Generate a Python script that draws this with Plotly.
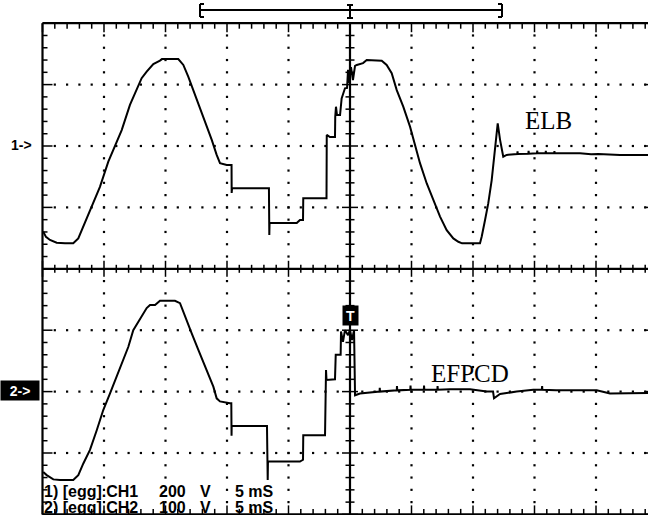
import plotly.graph_objects as go

# ---------------- data ----------------
time_scale_ms_per_div = 5
ch1_V_per_div = 200
ch2_V_per_div = 100
ch1_name = "ELB"
ch2_name = "EFPCD"
readout_ch1 = ["1) [egg].CH1", "200", "V", "5 mS"]
readout_ch2 = ["2) [egg].CH2", "100", "V", "5 mS"]

ch1_time_ms = [-24.94, -24.72, -24.39, -23.85, -23.17, -22.50, -22.09, -21.68, -21.14, -20.33,
               -19.65, -19.24, -18.56, -17.89, -17.34, -16.94, -16.53, -15.99, -15.45, -15.29,
               -13.96, -13.55, -13.15, -12.74, -12.20, -11.65, -11.24, -10.84, -10.57, -10.02,
               -9.63, -9.62, -9.59, -6.59, -6.56, -6.54, -4.33, -4.07, -3.82, -3.80,
               -1.91, -1.89, -1.63, -1.22, -1.20, -1.14, -1.06, -0.81, -0.68, -0.41,
               -0.24, -0.16, -0.08, 0.08, 0.24, 0.41, 0.55, 1.06, 1.36, 2.58,
               2.98, 3.39, 3.80, 4.33, 4.88, 5.29, 5.69, 6.24, 6.77, 7.32,
               7.86, 8.40, 8.81, 9.11, 10.57, 10.71, 10.98, 11.24, 11.52, 11.71,
               11.87, 12.01, 12.20, 12.46, 12.74,
               13.60, 13.62, 13.64, 14.50, 14.52, 14.54, 15.20, 15.22, 15.24, 15.90,
               15.92, 15.94, 16.60, 16.62, 16.64, 18.70, 19.60, 20.20, 21.95, 24.23, 25.0]
ch1_volt_V = [-279, -296, -306, -315, -317, -317, -301, -263, -209, -133,
              -51, -13, 52, 134, 182, 221, 242, 267, 278, 283,
              283, 264, 226, 182, 128, 68, 20, -29, -56, -62,
              -62, -153, -138, -138, -290, -251, -251, -241, -241, -170,
              -170, 36, 29, 29, 95, 128, 101, 101, 155, 188,
              189, 248, 205, 257, 215, 261, 264, 270, 280, 278,
              264, 237, 182, 128, 63, -2, -56, -122, -176, -230,
              -274, -301, -312, -317, -317, -295, -241, -187, -111, -35,
              41, 74, 20, -35, -29,
              -26, -17, -26, -25, -16, -25, -24, -15, -24, -24,
              -16, -24, -24, -17, -24, -24, -27, -26, -29, -29, -29]

ch2_time_ms = [-24.94, -24.66, -24.12, -23.58, -22.50, -22.09, -21.68, -21.14, -20.59, -20.06,
               -19.51, -18.84, -18.02, -17.62, -17.07, -16.53, -16.26, -15.85, -15.45, -14.23,
               -13.82, -13.42, -12.87, -12.33, -11.65, -11.11, -10.84, -10.57, -9.76, -9.65,
               -9.63, -9.62, -6.75, -6.69, -6.67, -4.07, -3.82, -3.80, -2.03, -1.95,
               -1.91, -1.22, -1.16, -0.76, -0.73, -0.57, -0.41, -0.16, 0.00, 0.16,
               0.33, 0.41, 0.81, 2.40, 2.42, 2.44, 3.80, 3.82, 3.84, 4.90,
               4.92, 4.94, 6.00, 6.02, 6.04, 7.10, 7.12, 7.14, 8.13, 9.76,
               11.11, 11.63, 11.71, 12.20, 13.55, 14.90, 15.60, 15.62, 15.64, 16.75,
               20.06, 21.14, 24.12, 25.0]
ch2_volt_V = [-131, -136, -143, -144, -144, -136, -117, -95, -63, -30,
              -3, 30, 73, 100, 119, 136, 141, 141, 148, 148,
              144, 122, 95, 68, 35, 8, -11, -16, -19, -19,
              -72, -56, -56, -144, -114, -114, -111, -71, -71, 35,
              19, 20, 60, 60, 98, 81, 100, 92, 100, 84,
              100, -6, -3, 0, 6, 0, 2, 9, 2, 3,
              10, 3, 3, 10, 3, 3, 9, 3, 4, 4,
              0, 0, -11, -4, 0, 3, 3, 9, 3, 2,
              2, -3, -2, -2]

# ---------------- geometry of the screen ----------------
W, H = 648, 515
PX_CX, PX_PER_DIV_X = 350.0, 61.5
PX_MY, PX_PER_DIV_Y = 268.8, 61.4
CH1_OFFSET_DIV, CH2_OFFSET_DIV = 2, -2


def tx(px):
    return (px - PX_CX) / PX_PER_DIV_X * time_scale_ms_per_div


def dy(py):
    return (PX_MY - py) / PX_PER_DIV_Y


def dpx_t(n):
    return n / PX_PER_DIV_X * time_scale_ms_per_div


def dpx_y(n):
    return n / PX_PER_DIV_Y


x_range = [tx(0), tx(W)]
y_range = [dy(H), dy(0)]
y2_range = [(y_range[0] - CH1_OFFSET_DIV) * ch1_V_per_div, (y_range[1] - CH1_OFFSET_DIV) * ch1_V_per_div]
y3_range = [(y_range[0] - CH2_OFFSET_DIV) * ch2_V_per_div, (y_range[1] - CH2_OFFSET_DIV) * ch2_V_per_div]

T_HALF = 5 * time_scale_ms_per_div  # 25 ms
fig = go.Figure()

# dotted graticule
gx, gy = [], []
for r in [-3, -2, -1, 1, 2, 3]:
    for k in range(-25, 26):
        if k in (-25, 0, 25):
            continue
        gx.append(k * time_scale_ms_per_div / 5)
        gy.append(r)
for c in [-4, -3, -2, -1, 1, 2, 3, 4]:
    for k in range(-19, 20):
        if k == 0:
            continue
        gx.append(c * time_scale_ms_per_div)
        gy.append(k * 0.2)
fig.add_trace(go.Scatter(x=gx, y=gy, mode="markers",
                         marker=dict(symbol="square", size=2.2, color="black", line=dict(width=0)),
                         hoverinfo="skip"))

# solid frame, centre lines
fx = [-T_HALF, -T_HALF, None, -T_HALF, T_HALF, None, -T_HALF, T_HALF, None, -T_HALF, T_HALF, None, 0, 0, None, T_HALF, T_HALF]
fy = [-4, 4, None, 4, 4, None, -4, -4, None, 0, 0, None, -4, 4, None, -4, 4]
fig.add_trace(go.Scatter(x=fx, y=fy, mode="lines", line=dict(color="black", width=2.2), hoverinfo="skip"))

# tick marks
kx, ky = [], []
for k in range(-25, 26):
    t = k * time_scale_ms_per_div / 5
    major = (k % 5 == 0)
    L = 9 if major else 5.5
    kx += [t, t, None]; ky += [4, 4 - dpx_y(L), None]
    kx += [t, t, None]; ky += [-4, -4 + dpx_y(L), None]
    h = 8 if major else 4
    kx += [t, t, None]; ky += [dpx_y(h), -dpx_y(h), None]
for k in range(-20, 21):
    yv = k * 0.2
    major = (k % 5 == 0)
    L = 10 if major else 5
    kx += [-T_HALF, -T_HALF + dpx_t(L), None]; ky += [yv, yv, None]
    kx += [T_HALF, T_HALF - dpx_t(13 if major else 5), None]; ky += [yv, yv, None]
    h = 8 if major else 4.5
    kx += [-dpx_t(h), dpx_t(h), None]; ky += [yv, yv, None]
fig.add_trace(go.Scatter(x=kx, y=ky, mode="lines", line=dict(color="black", width=1.5), hoverinfo="skip"))

# cursor ruler at top
rx = [tx(200), tx(502), None,
      tx(200), tx(200), None, tx(200), tx(204), None, tx(200), tx(204), None,
      tx(502), tx(502), None, tx(502), tx(498), None, tx(502), tx(498), None,
      tx(350), tx(350), None, tx(347), tx(353), None, tx(347), tx(353)]
ry = [dy(10), dy(10), None,
      dy(4), dy(17), None, dy(4), dy(4), None, dy(17), dy(17), None,
      dy(4), dy(17), None, dy(4), dy(4), None, dy(17), dy(17), None,
      dy(5), dy(18), None, dy(5), dy(5), None, dy(18), dy(18)]
fig.add_trace(go.Scatter(x=rx, y=ry, mode="lines", line=dict(color="black", width=2), hoverinfo="skip"))

# waveforms
fig.add_trace(go.Scatter(x=ch1_time_ms, y=ch1_volt_V, yaxis="y2", mode="lines",
                         line=dict(color="black", width=2), name="CH1"))
fig.add_trace(go.Scatter(x=ch2_time_ms, y=ch2_volt_V, yaxis="y3", mode="lines",
                         line=dict(color="black", width=2), name="CH2"))

ann = []
serif = "Liberation Serif, Times New Roman, serif"
sans = "Liberation Sans, Arial, sans-serif"
ann.append(dict(x=tx(548), y=dy(120), text=ch1_name, showarrow=False,
                font=dict(family=serif, size=25, color="black")))
ann.append(dict(x=tx(470), y=dy(373), text=ch2_name, showarrow=False,
                font=dict(family=serif, size=25, color="black")))
ann.append(dict(x=tx(21), y=dy(145), text="1->", showarrow=False,
                font=dict(family=sans, size=14, color="black", weight="bold")))
ann.append(dict(x=tx(20), y=dy(390.5), text="2->", showarrow=False, bgcolor="black",
                width=36, height=17, borderpad=1,
                font=dict(family=sans, size=14, color="white", weight="bold")))
ann.append(dict(x=tx(350), y=dy(315), text="T", showarrow=False, bgcolor="black",
                width=13, height=17, borderpad=1,
                font=dict(family=sans, size=14, color="white", weight="bold")))
seg_x = [41.5, 156.5, 197.5, 232.5]
for line_vals, ypix in [(readout_ch1, 491), (readout_ch2, 507)]:
    for s, xp in zip(line_vals, seg_x):
        ann.append(dict(x=tx(xp), y=dy(ypix), text=s, showarrow=False,
                        xanchor="left", yanchor="middle",
                        font=dict(family=sans, size=16, color="black", weight="bold")))

fig.update_layout(
    width=W, height=H, autosize=False,
    margin=dict(l=0, r=0, t=0, b=0, pad=0),
    paper_bgcolor="white", plot_bgcolor="white",
    showlegend=False,
    xaxis=dict(range=x_range, visible=False, fixedrange=True),
    yaxis=dict(range=y_range, visible=False, fixedrange=True),
    yaxis2=dict(range=y2_range, visible=False, overlaying="y", fixedrange=True),
    yaxis3=dict(range=y3_range, visible=False, overlaying="y", fixedrange=True),
    annotations=ann,
)

fig.write_html("out.html", config={"displayModeBar": False},
               post_script="document.body.style.margin='0';document.body.style.overflow='hidden';")
